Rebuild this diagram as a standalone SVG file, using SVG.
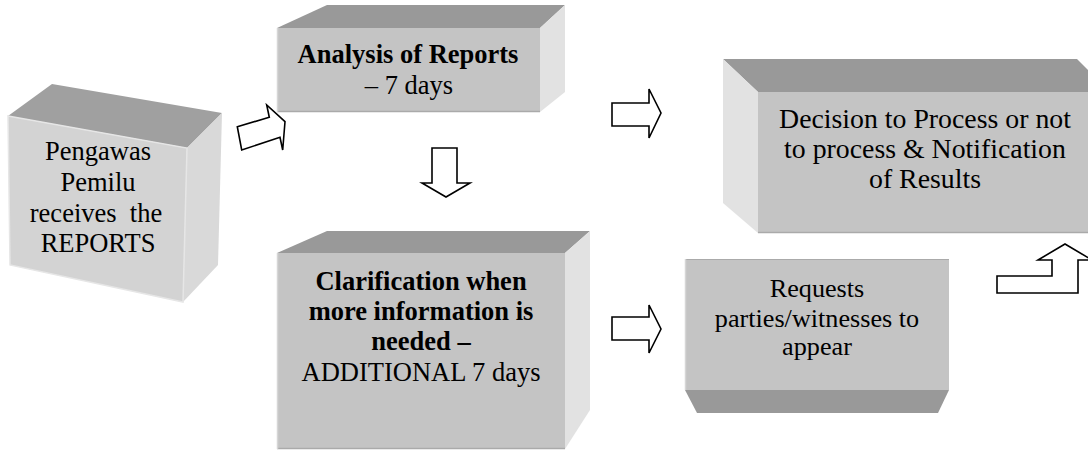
<svg xmlns="http://www.w3.org/2000/svg" width="1088" height="451" viewBox="0 0 1088 451">
<style>
.top{fill:#999999}
.front{fill:#c4c4c4}
.side{fill:#e2e2e2}
text{font-family:'Liberation Serif','DejaVu Serif',serif;font-size:26.5px;fill:#000;text-anchor:middle}
.b{font-weight:bold}
.arrow{fill:#fff;stroke:#000;stroke-width:1.6;stroke-linejoin:miter}
</style>
<rect width="1088" height="451" fill="#fff"/>
<g id="node-pengawas">
<polygon points="8,116 52,84 222,113 187,148" fill="#a0a0a0"/>
<polygon points="187,148 222,113 218,265 183,302" fill="#d9d9d9"/>
<polygon points="8,116 187,148 183,302 10,265" fill="#d3d3d3" stroke="#e6e6e6" stroke-width="1.5"/>
<text xml:space="preserve"><tspan x="98" y="160">Pengawas</tspan><tspan x="98" y="191">Pemilu</tspan><tspan x="96" y="222">receives  the</tspan><tspan x="98" y="252">REPORTS</tspan></text>
</g>
<g id="node-analysis">
<polygon class="top" points="277,28 327,5 565,5 540,28"/>
<polygon class="side" points="540,28 565,5 565,92 540,112"/>
<rect class="front" x="277" y="28" width="263" height="84"/>
<line x1="277" y1="111.5" x2="540" y2="111.5" stroke="#aaaaaa" stroke-width="1.5"/>
<line x1="277.5" y1="28" x2="277.5" y2="112" stroke="#d6d6d6" stroke-width="1.5"/>
<text><tspan class="b" x="408" y="63">Analysis of Reports</tspan><tspan x="409" y="94">– 7 days</tspan></text>
</g>
<g id="node-clarification">
<polygon class="top" points="277,253 327,231 590,231 565,253"/>
<polygon class="side" points="565,253 590,231 590,410 565,449"/>
<rect class="front" x="277" y="253" width="288" height="196"/>
<line x1="277" y1="448.5" x2="565" y2="448.5" stroke="#aaaaaa" stroke-width="1.5"/>
<line x1="277.5" y1="253" x2="277.5" y2="449" stroke="#d6d6d6" stroke-width="1.5"/>
<text><tspan class="b" x="421" y="290">Clarification when</tspan><tspan class="b" x="421" y="320">more information is</tspan><tspan class="b" x="421" y="350">needed –</tspan><tspan x="421" y="381">ADDITIONAL 7 days</tspan></text>
</g>
<g id="node-decision">
<polygon class="top" points="723,59 1077,59 1110,92 758,92"/>
<polygon class="side" points="723,59 758,92 758,233 723,203"/>
<rect class="front" x="758" y="92" width="340" height="141"/>
<line x1="758" y1="232.5" x2="1088" y2="232.5" stroke="#aaaaaa" stroke-width="1.5"/>
<text style="font-size:27.8px"><tspan x="925" y="128">Decision to Process or not</tspan><tspan x="925" y="158">to process &amp; Notification</tspan><tspan x="925" y="188">of Results</tspan></text>
</g>
<g id="node-requests">
<polygon class="top" points="685,390 949,390 938,413 697,413"/>
<rect class="front" x="685" y="259" width="264" height="131"/>
<line x1="685" y1="259.5" x2="949" y2="259.5" stroke="#aaaaaa" stroke-width="1"/>
<line x1="685.5" y1="259" x2="685.5" y2="390" stroke="#d6d6d6" stroke-width="1.5"/>
<text style="font-size:26.2px"><tspan x="817" y="297">Requests</tspan><tspan x="817" y="327">parties/witnesses to</tspan><tspan x="817" y="355">appear</tspan></text>
</g>
<g id="connectors">
<polygon class="arrow" points="237.3,126.7 269.3,117.3 266.7,105 285,121.7 282.7,150 280,137.3 241.7,150"/>
<polygon class="arrow" points="432,148 457,148 457,183 470,183 446,197 422,183 432,183"/>
<polygon class="arrow" points="612,103 649,103 649,89 661,113 649,138 649,126 612,126"/>
<polygon class="arrow" points="612,317 649,317 649,305 661,329 649,353 649,340 612,340"/>
<polygon class="arrow" points="997,276 1052,276 1052,260 1038,260 1065,244 1092,260 1078,260 1078,293 997,293"/>
</g>
</svg>
